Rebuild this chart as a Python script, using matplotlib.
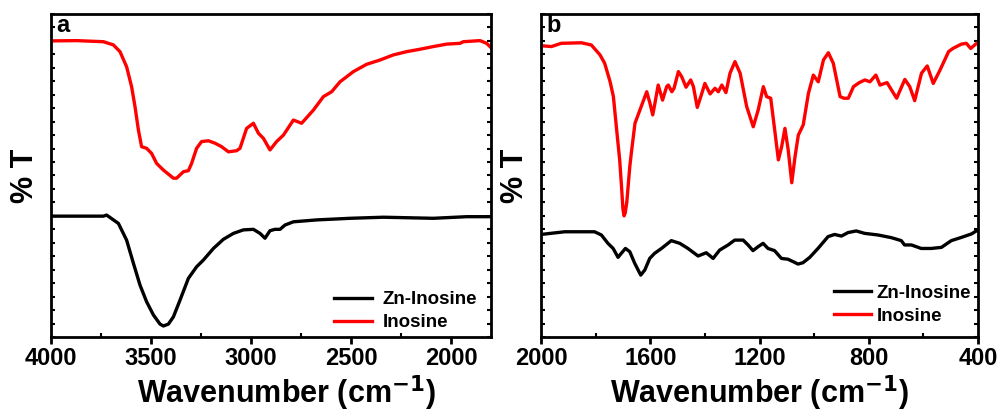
import numpy as np
import matplotlib.pyplot as plt
from matplotlib.ticker import MultipleLocator

plt.rcParams['font.family'] = ['Liberation Sans', 'DejaVu Sans']
plt.rcParams['font.weight'] = 'bold'

#------------------------------------------------
# panel a : 4000 - 1800 cm-1
wnA_ino = [4000, 3872, 3738, 3688, 3655, 3622, 3597, 3580, 3563, 3547, 3522,
           3497, 3472, 3438, 3388, 3372, 3338, 3313, 3297, 3272, 3247, 3213,
           3180, 3147, 3113, 3072, 3055, 3022, 2988, 2963, 2938, 2905, 2872,
           2838, 2788, 2747, 2688, 2638, 2597, 2555, 2488, 2422, 2355, 2288,
           2222, 2155, 2088, 2022, 1955, 1938, 1855, 1822, 1800]
tA_ino = [110.0, 110.1, 109.7, 108.5, 106.0, 100.4, 93.0, 85.6, 76.9, 70.7, 70.1,
          68.2, 64.5, 62.0, 59.0, 59.0, 61.4, 61.8, 64.5, 70.1, 72.6, 72.9,
          72.0, 70.7, 68.8, 69.2, 70.1, 77.5, 79.4, 75.7, 73.8, 69.5, 72.6,
          75.0, 80.6, 79.4, 84.3, 89.3, 91.1, 94.8, 98.6, 101.3, 102.9, 104.8,
          106.0, 106.9, 107.9, 108.8, 109.1, 109.7, 110.1, 109.1, 107.5]

wnA_zn = [4000, 3738, 3722, 3663, 3622, 3588, 3555, 3522, 3488, 3455, 3438,
          3413, 3388, 3355, 3313, 3272, 3238, 3188, 3138, 3088, 3038, 2988,
          2955, 2930, 2905, 2880, 2855, 2830, 2788, 2672, 2505, 2338, 2088,
          1922, 1800]
tA_zn = [44.9, 44.9, 45.3, 42.2, 36.0, 27.4, 19.3, 13.1, 8.2, 4.8, 4.1,
         4.8, 7.5, 13.7, 21.8, 26.1, 28.6, 32.9, 36.3, 38.5, 39.8, 40.0,
         38.5, 36.7, 39.5, 40.0, 40.0, 41.6, 42.8, 43.5, 44.1, 44.5, 44.1,
         44.7, 44.7]

#------------------------------------------------
# panel b : 2000 - 400 cm-1
wnB_ino = [2000, 1962, 1926, 1852, 1816, 1784, 1767, 1747, 1735, 1723, 1712,
           1706, 1700, 1696, 1692, 1686, 1675, 1668, 1656, 1638, 1613, 1601,
           1591, 1583, 1571, 1555, 1540, 1534, 1521, 1513, 1497, 1485, 1469,
           1452, 1442, 1428, 1415, 1400, 1381, 1363, 1351, 1338, 1323, 1308,
           1290, 1271, 1247, 1223, 1205, 1186, 1174, 1159, 1143, 1131, 1119,
           1107, 1095, 1082, 1070, 1058, 1040, 1021, 1003, 985, 966, 948,
           930, 905, 891, 875, 856, 835, 814, 796, 774, 759, 733, 717, 698,
           668, 650, 632, 607, 586, 564, 539, 508, 492, 461, 443, 427, 412, 400]
tB_ino = [108.2, 107.9, 109.1, 109.3, 108.5, 104.8, 101.7, 94.8, 89.3, 76.9, 65.8,
          57.0, 47.5, 45.0, 46.0, 50.0, 63.3, 69.5, 79.4, 84.3, 91.1, 86.8,
          82.5, 86.8, 93.6, 88.0, 93.0, 93.6, 91.1, 92.4, 98.6, 96.7, 92.8,
          95.5, 93.0, 85.3, 89.3, 94.2, 90.3, 92.4, 91.1, 93.6, 90.8, 98.0,
          102.3, 98.0, 85.6, 78.1, 84.3, 93.0, 89.3, 88.7, 75.7, 65.8, 70.7,
          77.5, 69.5, 57.3, 67.0, 75.0, 78.8, 90.5, 97.3, 94.8, 102.9, 105.6,
          101.7, 89.3, 88.7, 88.7, 93.0, 94.5, 95.5, 94.8, 97.3, 93.6, 94.5,
          91.8, 88.7, 95.7, 93.0, 87.8, 98.0, 100.7, 94.2, 99.2, 106.0, 107.2,
          108.8, 109.1, 107.2, 108.5, 109.5]

wnB_zn = [2000, 1913, 1804, 1779, 1755, 1736, 1718, 1706, 1691, 1675, 1657,
          1635, 1620, 1602, 1584, 1559, 1523, 1492, 1462, 1425, 1395, 1370,
          1346, 1315, 1291, 1260, 1242, 1224, 1206, 1187, 1169, 1145, 1120,
          1096, 1077, 1059, 1041, 1016, 986, 949, 925, 900, 876, 846, 815,
          766, 717, 681, 669, 644, 608, 571, 534, 498, 461, 424, 400]
tB_zn = [38.1, 39.1, 39.1, 37.9, 34.8, 32.9, 29.6, 31.1, 32.9, 31.7, 27.4,
         23.0, 24.9, 29.2, 31.1, 32.9, 35.8, 34.8, 32.9, 30.1, 31.3, 29.2,
         32.3, 34.2, 36.0, 36.0, 34.2, 32.1, 33.5, 34.8, 32.9, 32.1, 29.2,
         28.9, 28.0, 27.1, 27.6, 29.6, 32.9, 37.3, 38.1, 37.5, 38.8, 39.4, 38.5,
         37.9, 36.9, 35.8, 34.2, 34.2, 32.9, 32.9, 33.3, 35.8, 37.0, 38.3, 39.8]

xticksA = [4000, 3500, 3000, 2500, 2000]
xticksB = [2000, 1600, 1200, 800, 400]

#------------------------------------------------
def StylePanel(ax, xlim, xticks, minor, letter, leg_anchor, textpad, xlab_x):
    """ common styling of one FTIR panel """
    ax.set_xlim(xlim)
    ax.set_ylim(0, 120)
    ax.set_xticks(xticks)
    ax.xaxis.set_minor_locator(MultipleLocator(minor))
    ax.yaxis.set_major_locator(MultipleLocator(5))
    ax.tick_params(axis='x', which='major', direction='out', length=5, width=2,
                   labelsize=17, pad=2)
    ax.tick_params(axis='x', which='minor', direction='in', length=3, width=1.5)
    ax.tick_params(axis='y', which='major', direction='in', length=3, width=1.5,
                   left=True, right=True, labelleft=False)
    for sp in ax.spines.values():
        sp.set_linewidth(2)
    for lab in ax.get_xticklabels():
        lab.set_fontweight('bold')
    ax.set_xlabel('Wavenumber (cm$^{\\mathbf{-1}}$)', fontsize=22, fontweight='bold')
    ax.xaxis.set_label_coords(xlab_x, -0.112)
    ax.set_ylabel('% T', fontsize=22, fontweight='bold', labelpad=8)
    ax.text(0.012, 1.0, letter, transform=ax.transAxes, fontsize=17,
            fontweight='bold', va='top', ha='left')
    leg = ax.legend(loc='lower right', bbox_to_anchor=leg_anchor, frameon=False,
                    fontsize=13.5, handlelength=2.0, handletextpad=textpad,
                    labelspacing=0.3, borderaxespad=0)
    for t in leg.get_texts():
        t.set_fontweight('bold')


fig = plt.figure(figsize=(9.98, 4.11), dpi=100)
axA = fig.add_axes([0.0511, 0.180, 0.4409, 0.786])
axB = fig.add_axes([0.5421, 0.180, 0.4379, 0.786])

axA.plot(wnA_zn, tA_zn, '-k', lw=2.4, label='Zn-Inosine')
axA.plot(wnA_ino, tA_ino, '-', color='#ff0000', lw=2.4, label='Inosine')
StylePanel(axA, (4000, 1800), xticksA, 250, 'a', (0.986, -0.005), 0.6, 0.536)

axB.plot(wnB_zn, tB_zn, '-k', lw=2.4, label='Zn-Inosine')
axB.plot(wnB_ino, tB_ino, '-', color='#ff0000', lw=2.4, label='Inosine')
StylePanel(axB, (2000, 400), xticksB, 200, 'b', (1.002, 0.015), 0.3, 0.5)

fig.savefig('out.png', dpi=100)
